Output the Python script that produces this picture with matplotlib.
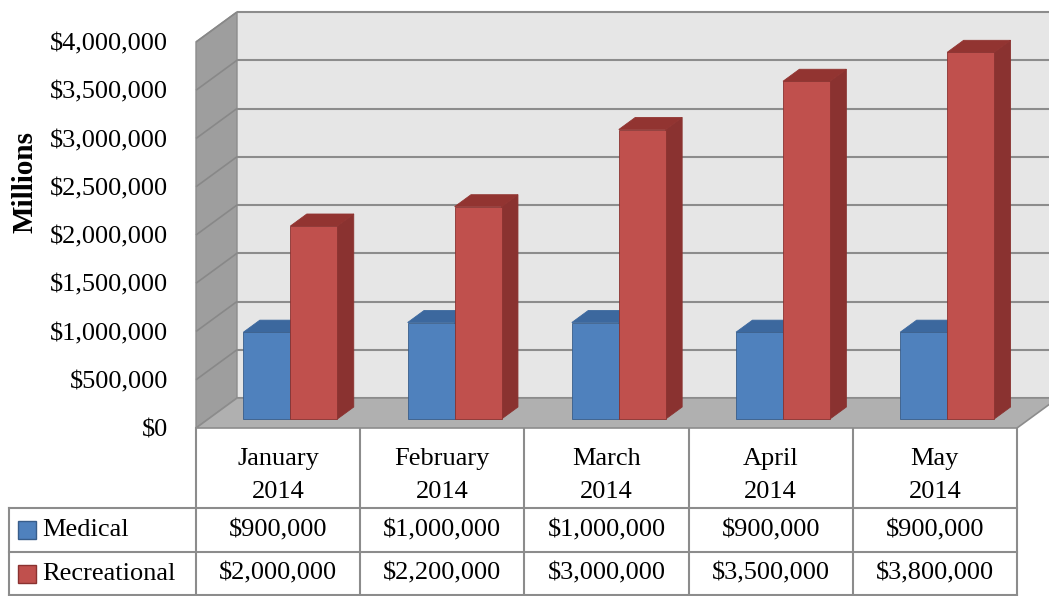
import numpy as np
import matplotlib
matplotlib.use("Agg")
import matplotlib.pyplot as plt
from matplotlib.patches import Polygon, Rectangle
from matplotlib.transforms import IdentityTransform

# ---- data ----
categories = ["January\n2014", "February\n2014", "March\n2014", "April\n2014", "May\n2014"]
series_names = ["Medical", "Recreational"]
medical = [900000, 1000000, 1000000, 900000, 900000]
recreational = [2000000, 2200000, 3000000, 3500000, 3800000]
y_ticks = [0, 500000, 1000000, 1500000, 2000000, 2500000, 3000000, 3500000, 4000000]
y_label = "Millions"

# ---- styling ----
W, H = 1049, 596
DPI = 100
FONT = "Liberation Serif"
FS = 19
face = {"Medical": ("#4F81BD", "#3C689E", "#385D8A"),
        "Recreational": ("#C0504D", "#923431", "#8A3230")}
GRID = "#8C8C8C"
DEPTH = np.array([41.0, 30.0])       # screen offset of the full depth, in pixels
BAR_F0, BAR_F1 = 0.3, 0.7             # depth span occupied by the columns
BAR_W = 0.286                         # column width in category units

plt.rcParams["font.family"] = [FONT, "DejaVu Serif"]

fig = plt.figure(figsize=(W / DPI, H / DPI), dpi=DPI)
fig.patch.set_facecolor("white")

# front plane of the plot box: category axis 0..5, value axis 0..4M
ax = fig.add_axes([196 / W, (H - 428) / H, (1017 - 196) / W, (428 - 42) / H])
ax.set_xlim(0, len(categories))
ax.set_ylim(y_ticks[0], y_ticks[-1])
ax.set_facecolor("none")
for s in ax.spines.values():
    s.set_visible(False)
ax.set_xticks([])
ax.set_yticks(y_ticks)
ax.set_yticklabels([f"${v:,.0f}" for v in y_ticks], fontsize=FS, fontfamily=FONT)
ax.tick_params(axis="y", length=0, pad=20)


def proj(x, v, f):
    """Display coordinates of a point at category x, value v, depth fraction f."""
    p = ax.transData.transform((x, v))
    return p + f * DEPTH


def poly(pts, fc, ec="none", lw=0.0, z=1):
    ax.add_patch(Polygon(np.array(pts), closed=True, facecolor=fc, edgecolor=ec,
                         linewidth=lw, transform=IdentityTransform(),
                         clip_on=False, zorder=z))


def seg(p, q, color, lw, z):
    ax.add_line(plt.Line2D([p[0], q[0]], [p[1], q[1]], color=color, linewidth=lw,
                           transform=IdentityTransform(), clip_on=False, zorder=z,
                           solid_capstyle="butt"))


n = len(categories)
vmax = y_ticks[-1]

# back wall
poly([proj(0, 0, 1), proj(n, 0, 1), proj(n, vmax, 1), proj(0, vmax, 1)], "#E6E6E6", z=0.5)
# side wall
poly([proj(0, 0, 0), proj(0, 0, 1), proj(0, vmax, 1), proj(0, vmax, 0)], "#9E9E9E",
     ec="#8C8C8C", lw=1.0, z=0.6)
# gridlines on back wall and side wall
for v in y_ticks:
    seg(proj(0, v, 1), proj(n, v, 1), GRID, 1.5, 0.8)
    if v > 0:
        seg(proj(0, v, 0), proj(0, v, 1), "#888888", 1.2, 0.8)
# floor
poly([proj(0, 0, 0), proj(n, 0, 0), proj(n, 0, 1), proj(0, 0, 1)], "#B0B0B0",
     ec=GRID, lw=1.2, z=1)

# columns
for i in range(n):
    for k, (name, vals) in enumerate(zip(series_names, [medical, recreational])):
        v = vals[i]
        x0 = i + 0.5 - BAR_W + k * BAR_W
        x1 = x0 + BAR_W
        fc, tc, sc = face[name]
        z = 3 + i * 0.1 + k * 0.05
        poly([proj(x1, 0, BAR_F0), proj(x1, 0, BAR_F1), proj(x1, v, BAR_F1), proj(x1, v, BAR_F0)],
             sc, ec=sc, lw=0.6, z=z)
        poly([proj(x0, v, BAR_F0), proj(x1, v, BAR_F0), proj(x1, v, BAR_F1), proj(x0, v, BAR_F1)],
             tc, ec=tc, lw=0.6, z=z)
        poly([proj(x0, 0, BAR_F0), proj(x1, 0, BAR_F0), proj(x1, v, BAR_F0), proj(x0, v, BAR_F0)],
             fc, ec=sc, lw=0.6, z=z + 0.01)

# axis title
fig.text(25 / W, 1 - 182 / H, y_label, rotation=90, ha="center", va="center",
         fontsize=FS + 2, fontweight="bold", fontfamily=FONT)

# ---- data table ----
tab = fig.add_axes([0, 0, 1, 1], zorder=-1)
tab.set_xlim(0, W)
tab.set_ylim(H, 0)
tab.axis("off")

edges = ax.transData.transform(np.column_stack([np.arange(n + 1), np.zeros(n + 1)]))[:, 0]
y_top, y_head, y_r1, y_r2 = 428, 508, 552, 595
x_left = 9
TL = dict(color=GRID, linewidth=1.5, solid_capstyle="projecting")

for e in edges:
    tab.plot([e, e], [y_top, y_r2], **TL)
tab.plot([x_left, x_left], [y_head, y_r2], **TL)
for yy in (y_head, y_r1, y_r2):
    tab.plot([x_left, edges[-1]], [yy, yy], **TL)

centers = (edges[:-1] + edges[1:]) / 2
for c, lab in zip(centers, categories):
    l1, l2 = lab.split("\n")
    tab.text(c, 459, l1, ha="center", va="center", fontsize=FS, fontfamily=FONT)
    tab.text(c, 492, l2, ha="center", va="center", fontsize=FS, fontfamily=FONT)

row_mid = [(y_head + y_r1) / 2, (y_r1 + y_r2) / 2]
for ym, name, vals in zip(row_mid, series_names, [medical, recreational]):
    fc, tc, sc = face[name]
    tab.add_patch(Rectangle((18, ym - 9), 18, 18, facecolor=fc, edgecolor=sc, linewidth=1))
    tab.text(42, ym, name, ha="left", va="center", fontsize=FS, fontfamily=FONT)
    for c, v in zip(centers, vals):
        tab.text(c, ym, f"${v:,.0f}", ha="center", va="center", fontsize=FS, fontfamily=FONT)

fig.savefig("out.png", dpi=DPI)
